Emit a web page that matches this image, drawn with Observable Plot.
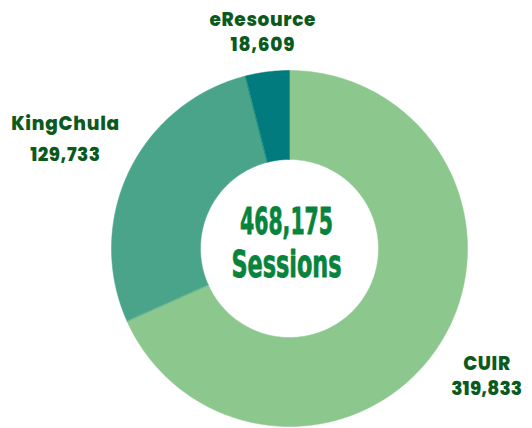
<!DOCTYPE html>
<html>
<head>
<meta charset="utf-8">
<script src="https://cdn.jsdelivr.net/npm/d3@7"></script>
<script src="https://cdn.jsdelivr.net/npm/@observablehq/plot@0.6"></script>
<style>
  html, body { margin: 0; padding: 0; background: #ffffff; }
  #chart svg { display: block; }
</style>
</head>
<body>
<div id="chart"></div>
<script>
// ---- data ----
const categories = ["CUIR", "KingChula", "eResource"];
const sessions = [319833, 129733, 18609];
const sliceColors = ["#8cc78e", "#4aa48a", "#017b7d"];
const centerLines = ["468,175", "Sessions"];

// ---- layout (styles/positions kept in code, not data) ----
const W = 532, H = 428;
const cx = 289, cy = 248, R = 178;        // pixel centre & outer radius
const innerRatio = 0.5;
const labelRadius = {CUIR: 1.32, KingChula: 1.40, eResource: 1.22};
const labelGap = {CUIR: 12.5, KingChula: 15.5, eResource: 12.5};

const rows = categories.map((c, i) => ({name: c, value: sessions[i]}));
const arcs = d3.pie().sort(null).value(d => d.value)(rows);

// slice outlines in unit coordinates (angle 0 = 12 o'clock, clockwise)
const polys = [];
arcs.forEach(a => {
  const n = Math.max(4, Math.ceil((a.endAngle - a.startAngle) / (Math.PI / 180)));
  for (let k = 0; k <= n; k++) {
    const t = a.startAngle + (a.endAngle - a.startAngle) * k / n;
    polys.push({name: a.data.name, x: Math.sin(t), y: Math.cos(t)});
  }
  for (let k = n; k >= 0; k--) {
    const t = a.startAngle + (a.endAngle - a.startAngle) * k / n;
    polys.push({name: a.data.name, x: innerRatio * Math.sin(t), y: innerRatio * Math.cos(t)});
  }
});

const labels = arcs.map(a => {
  const m = (a.startAngle + a.endAngle) / 2;
  const r = labelRadius[a.data.name];
  return {name: a.data.name, value: a.data.value, x: r * Math.sin(m), y: r * Math.cos(m)};
});

const fmt = d3.format(",");
const labelFont = "Poppins, 'Open Sans', sans-serif";
const centerFont = "'Liberation Sans Narrow', 'DejaVu Sans Condensed', sans-serif";
const labelColor = "#0b5a1d";

const labelMarks = labels.flatMap(l => [
  Plot.text([l], {x: "x", y: "y", text: "name", dy: -labelGap[l.name], fill: labelColor, fontSize: 18.5, fontWeight: 800, fontFamily: labelFont}),
  Plot.text([l], {x: "x", y: "y", text: d => fmt(d.value), dy: labelGap[l.name], fill: labelColor, fontSize: 18.5, fontWeight: 800, fontFamily: labelFont})
]);

const plot = Plot.plot({
  width: W,
  height: H,
  margin: 0,
  x: {domain: [-cx / R, (W - cx) / R], axis: null},
  y: {domain: [-(H - cy) / R, cy / R], axis: null},
  color: {domain: categories, range: sliceColors},
  style: {background: "#ffffff"},
  marks: [
    Plot.line(polys, {x: "x", y: "y", z: "name", fill: "name", stroke: "name", strokeWidth: 0.5, curve: "linear-closed"}),
    ...labelMarks,
    Plot.text([centerLines[0]], {x: () => 0, y: () => 0, text: d => d, dx: -3, dy: -26.5, fill: "#07833b", fontSize: 38, fontWeight: "bold", fontFamily: centerFont, stroke: "#07833b", strokeWidth: 0.8}),
    Plot.text([centerLines[1]], {x: () => 0, y: () => 0, text: d => d, dx: -3, dy: 16, fill: "#07833b", fontSize: 38, fontWeight: "bold", fontFamily: centerFont, stroke: "#07833b", strokeWidth: 0.8})
  ]
});

// fit texts to the widths seen in the reference
const targetLen = {};
targetLen[centerLines[0]] = [93, "spacingAndGlyphs"];
targetLen[centerLines[1]] = [110, "spacingAndGlyphs"];
const labelLen = {eResource: 106, KingChula: 108, CUIR: 47, "18,609": 64, "129,733": 70, "319,833": 71};
for (const k in labelLen) targetLen[k] = [labelLen[k], "spacing"];
plot.querySelectorAll("text").forEach(t => {
  const spec = targetLen[t.textContent];
  if (spec) {
    t.setAttribute("textLength", spec[0]);
    t.setAttribute("lengthAdjust", spec[1]);
  }
});

document.getElementById("chart").appendChild(plot);
</script>
</body>
</html>
